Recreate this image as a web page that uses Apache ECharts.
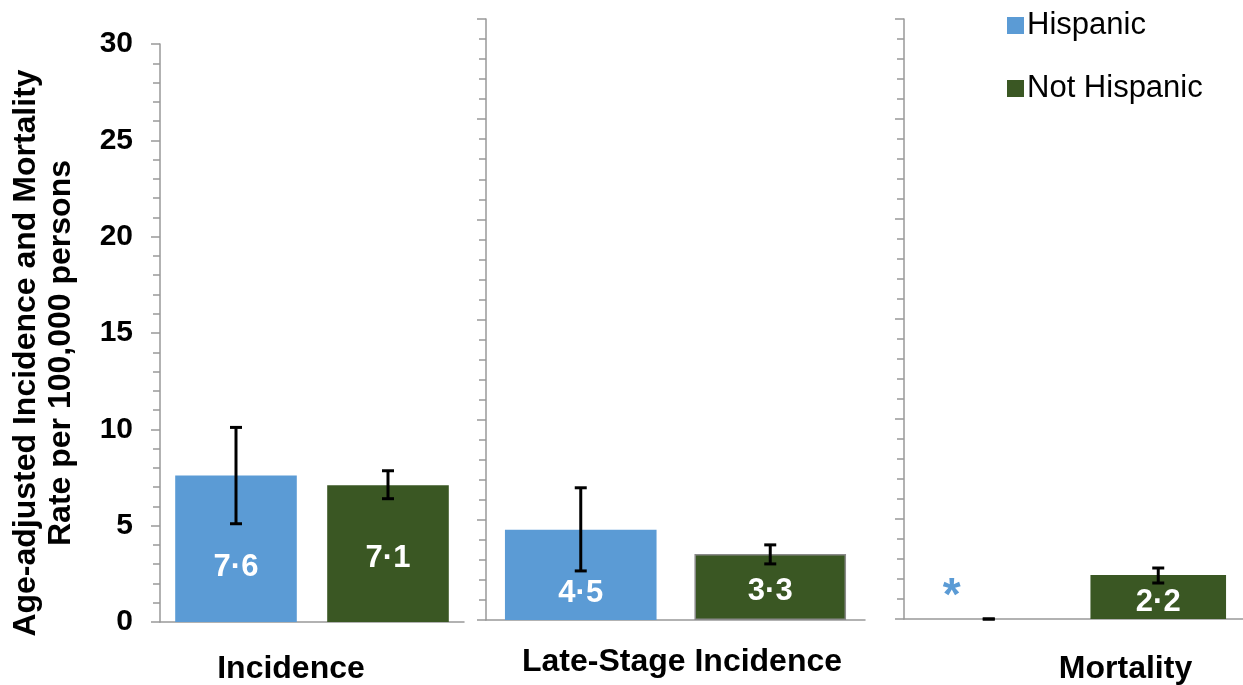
<!DOCTYPE html>
<html>
<head>
<meta charset="utf-8">
<script src="https://cdn.jsdelivr.net/npm/echarts@6/dist/echarts.min.js"></script>
<style>
html,body{margin:0;padding:0;background:#fff;}
#chart{width:1243px;height:685px;}
</style>
</head>
<body>
<div id="chart"></div>
<script>
// ---- data ----
var panels = ['Incidence', 'Late-Stage Incidence', 'Mortality'];
var groups = ['Hispanic', 'Not Hispanic'];
var hispanic = [7.6, 4.5, null];          // null = suppressed (*)
var notHispanic = [7.1, 3.3, 2.2];
var hispanicLow = [5.1, 2.45, 0];
var hispanicHigh = [10.1, 6.6, 0];
var notHispanicLow = [6.4, 2.8, 1.8];
var notHispanicHigh = [7.85, 3.75, 2.55];
var yTicks = [0, 5, 10, 15, 20, 25, 30];
var yTitle = ['Age-adjusted Incidence and Mortality', 'Rate per 100,000 persons'];

// ---- styles ----
var FONT = '"Liberation Sans", Arial, sans-serif';
var BLUE = '#5B9BD5';
var GREEN = '#3A5723';
var AXIS = '#999999';

var grids = [
  {left: 160, top: 44, width: 304, height: 578, outerBoundsMode: 'none', containLabel: false},
  {left: 486, top: 19, width: 379, height: 601, outerBoundsMode: 'none', containLabel: false},
  {left: 904, top: 19, width: 339, height: 600, outerBoundsMode: 'none', containLabel: false}
];
var namePads = [[0, 42, 0, 0], [0, 0, 0, 13], [0, 0, 0, 104]];
var nameGaps = [31, 26, 34];

function fmt(v) { return v.toFixed(1).replace('.', '\u00B7'); }

var xAxes = [], yAxes = [], series = [];
panels.forEach(function (p, i) {
  xAxes.push({
    type: 'category', gridIndex: i, data: groups,
    axisLine: {lineStyle: {color: AXIS, width: 1.5}},
    axisTick: {show: false}, axisLabel: {show: false},
    name: p, nameLocation: 'middle', nameGap: nameGaps[i],
    nameTextStyle: {fontFamily: FONT, fontWeight: 'bold', fontSize: 32, color: '#000', padding: namePads[i]}
  });
  yAxes.push({
    type: 'value', gridIndex: i, min: yTicks[0], max: yTicks[yTicks.length - 1], interval: yTicks[1] - yTicks[0],
    axisLine: {show: true, lineStyle: {color: AXIS, width: 1.5}},
    axisTick: {show: true, length: 9, lineStyle: {color: AXIS, width: 1.5}},
    minorTick: {show: true, splitNumber: 5, length: 7, lineStyle: {color: AXIS, width: 1.5}},
    splitLine: {show: false},
    axisLabel: {show: i === 0, margin: 27, fontFamily: FONT, fontWeight: 'bold', fontSize: 30, color: '#000'}
  });
  var hv = hispanic[i], nv = notHispanic[i];
  series.push({
    name: groups[0], type: 'bar', xAxisIndex: i, yAxisIndex: i,
    barWidth: '80%', barGap: '-100%',
    itemStyle: {color: BLUE},
    label: {show: true, position: 'inside', offset: [0, 19], formatter: function (d) { return fmt(d.value); },
      fontFamily: FONT, fontWeight: 'bold', fontSize: 31, color: '#fff'},
    data: [hv === null ? '-' : hv, '-']
  });
  series.push({
    name: groups[1], type: 'bar', xAxisIndex: i, yAxisIndex: i,
    barWidth: '80%', barGap: '-100%',
    itemStyle: {color: GREEN},
    label: {show: true, position: 'inside', offset: [0, 5], formatter: function (d) { return fmt(d.value); },
      fontFamily: FONT, fontWeight: 'bold', fontSize: 31, color: '#fff'},
    data: ['-', i === 1 ? {value: nv, itemStyle: {borderColor: '#8a8a8a', borderWidth: 1.5}} : nv]
  });
  series.push({
    name: 'err' + i, type: 'custom', xAxisIndex: i, yAxisIndex: i, z: 10,
    data: [[0, hispanicLow[i], hispanicHigh[i], hv === null ? 1 : 0], [1, notHispanicLow[i], notHispanicHigh[i], 0]],
    renderItem: function (params, api) {
      var x = api.value(0);
      var lo = api.coord([x, api.value(1)]);
      var hi = api.coord([x, api.value(2)]);
      var hw = 6;
      var st = {stroke: '#000', lineWidth: 3};
      var children = [
        {type: 'line', shape: {x1: lo[0], y1: lo[1], x2: hi[0], y2: hi[1]}, style: st},
        {type: 'line', shape: {x1: lo[0] - hw, y1: lo[1], x2: lo[0] + hw, y2: lo[1]}, style: st},
        {type: 'line', shape: {x1: hi[0] - hw, y1: hi[1], x2: hi[0] + hw, y2: hi[1]}, style: st}
      ];
      if (api.value(3) === 1) {
        children.push({type: 'text', x: lo[0] - 37, y: lo[1] - 22,
          style: {text: '*', fill: BLUE, font: 'bold 46px ' + FONT, align: 'center', verticalAlign: 'middle'}});
      }
      return {type: 'group', children: children};
    }
  });
});

var chart = echarts.init(document.getElementById('chart'));
chart.setOption({
  animation: false,
  backgroundColor: '#fff',
  grid: grids,
  xAxis: xAxes,
  yAxis: yAxes,
  legend: {
    data: groups, orient: 'vertical', left: 1002, top: 5,
    icon: 'rect', itemWidth: 17, itemHeight: 17, itemGap: 32,
    textStyle: {fontFamily: FONT, fontSize: 31, color: '#000', padding: [0, 0, 0, -2]}
  },
  graphic: [{
    type: 'text', x: 44, y: 353, rotation: Math.PI / 2,
    style: {text: yTitle.join('\n'), font: 'bold 32px ' + FONT, fill: '#000',
      align: 'center', verticalAlign: 'middle', lineHeight: 35}
  }],
  series: series
});
</script>
</body>
</html>
